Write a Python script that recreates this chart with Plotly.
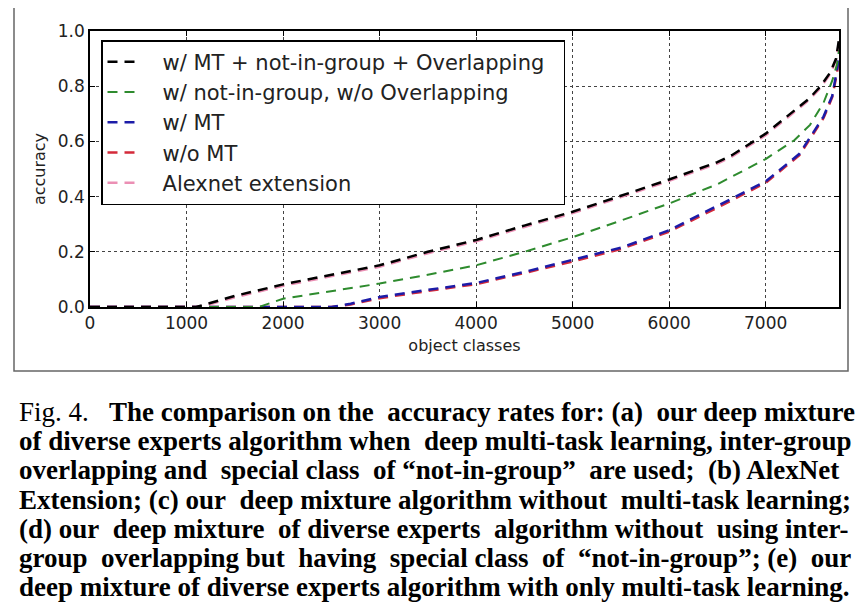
import plotly.graph_objects as go

# per-class accuracy, classes sorted by accuracy
x_a = [0, 1100, 1200, 1500, 2000, 2500, 3000, 3500, 4000, 4500, 5000, 5500, 6000, 6500, 6650, 7000, 7250, 7450, 7570, 7670, 7730, 7760]
y_a = [0, 0, 0.01, 0.04, 0.082, 0.116, 0.151, 0.2, 0.243, 0.295, 0.345, 0.403, 0.462, 0.525, 0.55, 0.628, 0.70, 0.755, 0.80, 0.85, 0.90, 0.97]

x_d = [0, 1750, 2000, 2500, 3000, 3500, 4000, 4500, 5000, 5500, 6000, 6500, 7000, 7300, 7460, 7600, 7690, 7740, 7760]
y_d = [0, 0, 0.03, 0.058, 0.085, 0.117, 0.151, 0.2, 0.253, 0.313, 0.375, 0.445, 0.536, 0.605, 0.66, 0.74, 0.82, 0.88, 0.93]

x_e = [0, 2500, 2700, 3000, 3500, 4000, 4500, 5000, 5500, 6000, 6500, 7000, 7350, 7600, 7690, 7740, 7760]
y_e = [0, 0, 0.012, 0.036, 0.062, 0.087, 0.127, 0.17, 0.215, 0.278, 0.365, 0.455, 0.555, 0.69, 0.765, 0.86, 0.92]

x_c = [0, 2500, 2700, 3000, 3500, 4000, 4500, 5000, 5500, 6000, 6500, 7000, 7350, 7600, 7690, 7740, 7760]
y_c = [0, 0, 0.009, 0.032, 0.058, 0.083, 0.123, 0.165, 0.21, 0.273, 0.36, 0.45, 0.55, 0.685, 0.76, 0.85, 0.91]

x_b = [0, 1100, 1200, 1500, 2000, 2500, 3000, 3500, 4000, 4500, 5000, 5500, 6000, 6500, 6650, 7000, 7250, 7450, 7570, 7670, 7730, 7760]
y_b = [0, 0, 0.006, 0.035, 0.077, 0.111, 0.146, 0.195, 0.238, 0.29, 0.34, 0.398, 0.457, 0.52, 0.545, 0.622, 0.694, 0.75, 0.795, 0.845, 0.895, 0.96]

names = ["w/ MT + not-in-group + Overlapping", "w/ not-in-group, w/o Overlapping",
         "w/ MT", "w/o MT", "Alexnet extension"]
colors = ["#000000", "#2e8b2e", "#1c1ca8", "#d42a3a", "#eb8fb4"]

x_ticks = [0, 1000, 2000, 3000, 4000, 5000, 6000, 7000]
y_ticks = [0.0, 0.2, 0.4, 0.6, 0.8, 1.0]

caption = [
    "Fig. 4.  <b>The comparison on the accuracy rates for: (a) our deep mixture</b>",
    "<b>of diverse experts algorithm when deep multi-task learning, inter-group</b>",
    "<b>overlapping and special class of “not-in-group” are used; (b) AlexNet</b>",
    "<b>Extension; (c) our deep mixture algorithm without multi-task learning;</b>",
    "<b>(d) our deep mixture of diverse experts algorithm without using inter-</b>",
    "<b>group overlapping but having special class of “not-in-group”; (e) our</b>",
    "<b>deep mixture of diverse experts algorithm with only multi-task learning.</b>",
]
# extra spaces per caption line, to mimic the justified paragraph
caption_pad = [3, 1, 4, 2, 4, 6, 0]

# the page body adds an 8px margin, so the figure is laid out 8px up/left
OFF = 8
W, H = 864, 614
L, T = 90 - OFF, 31 - OFF
R = W - (839 - OFF)
B = H - (307 - OFF)
pw, ph = W - L - R, H - T - B


def px_x(p):
    return (p - OFF - L) / pw


def px_y(p):
    return (H - B - (p - OFF)) / ph


def justify(line, extra):
    words = line.split(" ")
    gaps = len(words) - 1
    add = [0] * gaps
    for j in range(extra):
        add[int((j + 0.5) * gaps / extra)] += 1
    out = words[0]
    for g in range(gaps):
        out += "\u00a0" * add[g] + " " + words[g + 1]
    return out


series = [(x_a, y_a), (x_d, y_d), (x_e, y_e), (x_c, y_c), (x_b, y_b)]

fig = go.Figure()
# draw pink/red first so black and blue sit on top
for i in [4, 3, 2, 1, 0]:
    xs, ys = series[i]
    fig.add_trace(go.Scatter(
        x=xs, y=ys, mode="lines", name="\u00a0\u00a0\u00a0" + names[i] + "\u00a0\u00a0",
        legendrank=i + 1,
        line=dict(color=colors[i], width=2.5 if i != 1 else 2, dash="10px,7px"),
    ))

axis_common = dict(
    showline=True, linecolor="black", linewidth=1.5, mirror="ticks",
    ticks="inside", ticklen=5, tickcolor="black",
    showgrid=True, gridcolor="#444", griddash="dot", gridwidth=1,
    zeroline=False,
    tickfont=dict(family="DejaVu Sans", size=17, color="#222"),
)

fig.update_xaxes(axis_common, range=[0, 7760], tickvals=x_ticks,
                 title=dict(text="object classes", standoff=8,
                            font=dict(family="DejaVu Sans", size=16, color="#222")))
fig.update_yaxes(axis_common, range=[0, 1.0], tickvals=y_ticks, tickformat=".1f",
                 title=dict(text="accuracy", standoff=8,
                            font=dict(family="DejaVu Sans", size=16, color="#222")))

# gray frame around the whole figure image
fig.add_shape(type="rect", xref="paper", yref="paper",
              x0=px_x(14), x1=px_x(848), y0=px_y(371), y1=px_y(5),
              line=dict(color="#666", width=1.5), layer="below")

for k, line in enumerate(caption):
    fig.add_annotation(
        xref="paper", yref="paper", x=px_x(17), y=px_y(412 + 29.2 * k),
        xanchor="left", yanchor="middle", align="left", showarrow=False,
        text=justify(line, caption_pad[k]),
        font=dict(family="Liberation Serif", size=27, color="black"),
    )

fig.update_layout(
    width=W, height=H,
    margin=dict(l=L, r=R, t=T, b=B),
    paper_bgcolor="white", plot_bgcolor="white",
    showlegend=True,
    legend=dict(x=px_x(101), y=px_y(40), xanchor="left", yanchor="top",
                bgcolor="white", bordercolor="black", borderwidth=1.5,
                font=dict(family="DejaVu Sans", size=21, color="#222"),
                itemwidth=30),
)

fig.write_html("out.html")
